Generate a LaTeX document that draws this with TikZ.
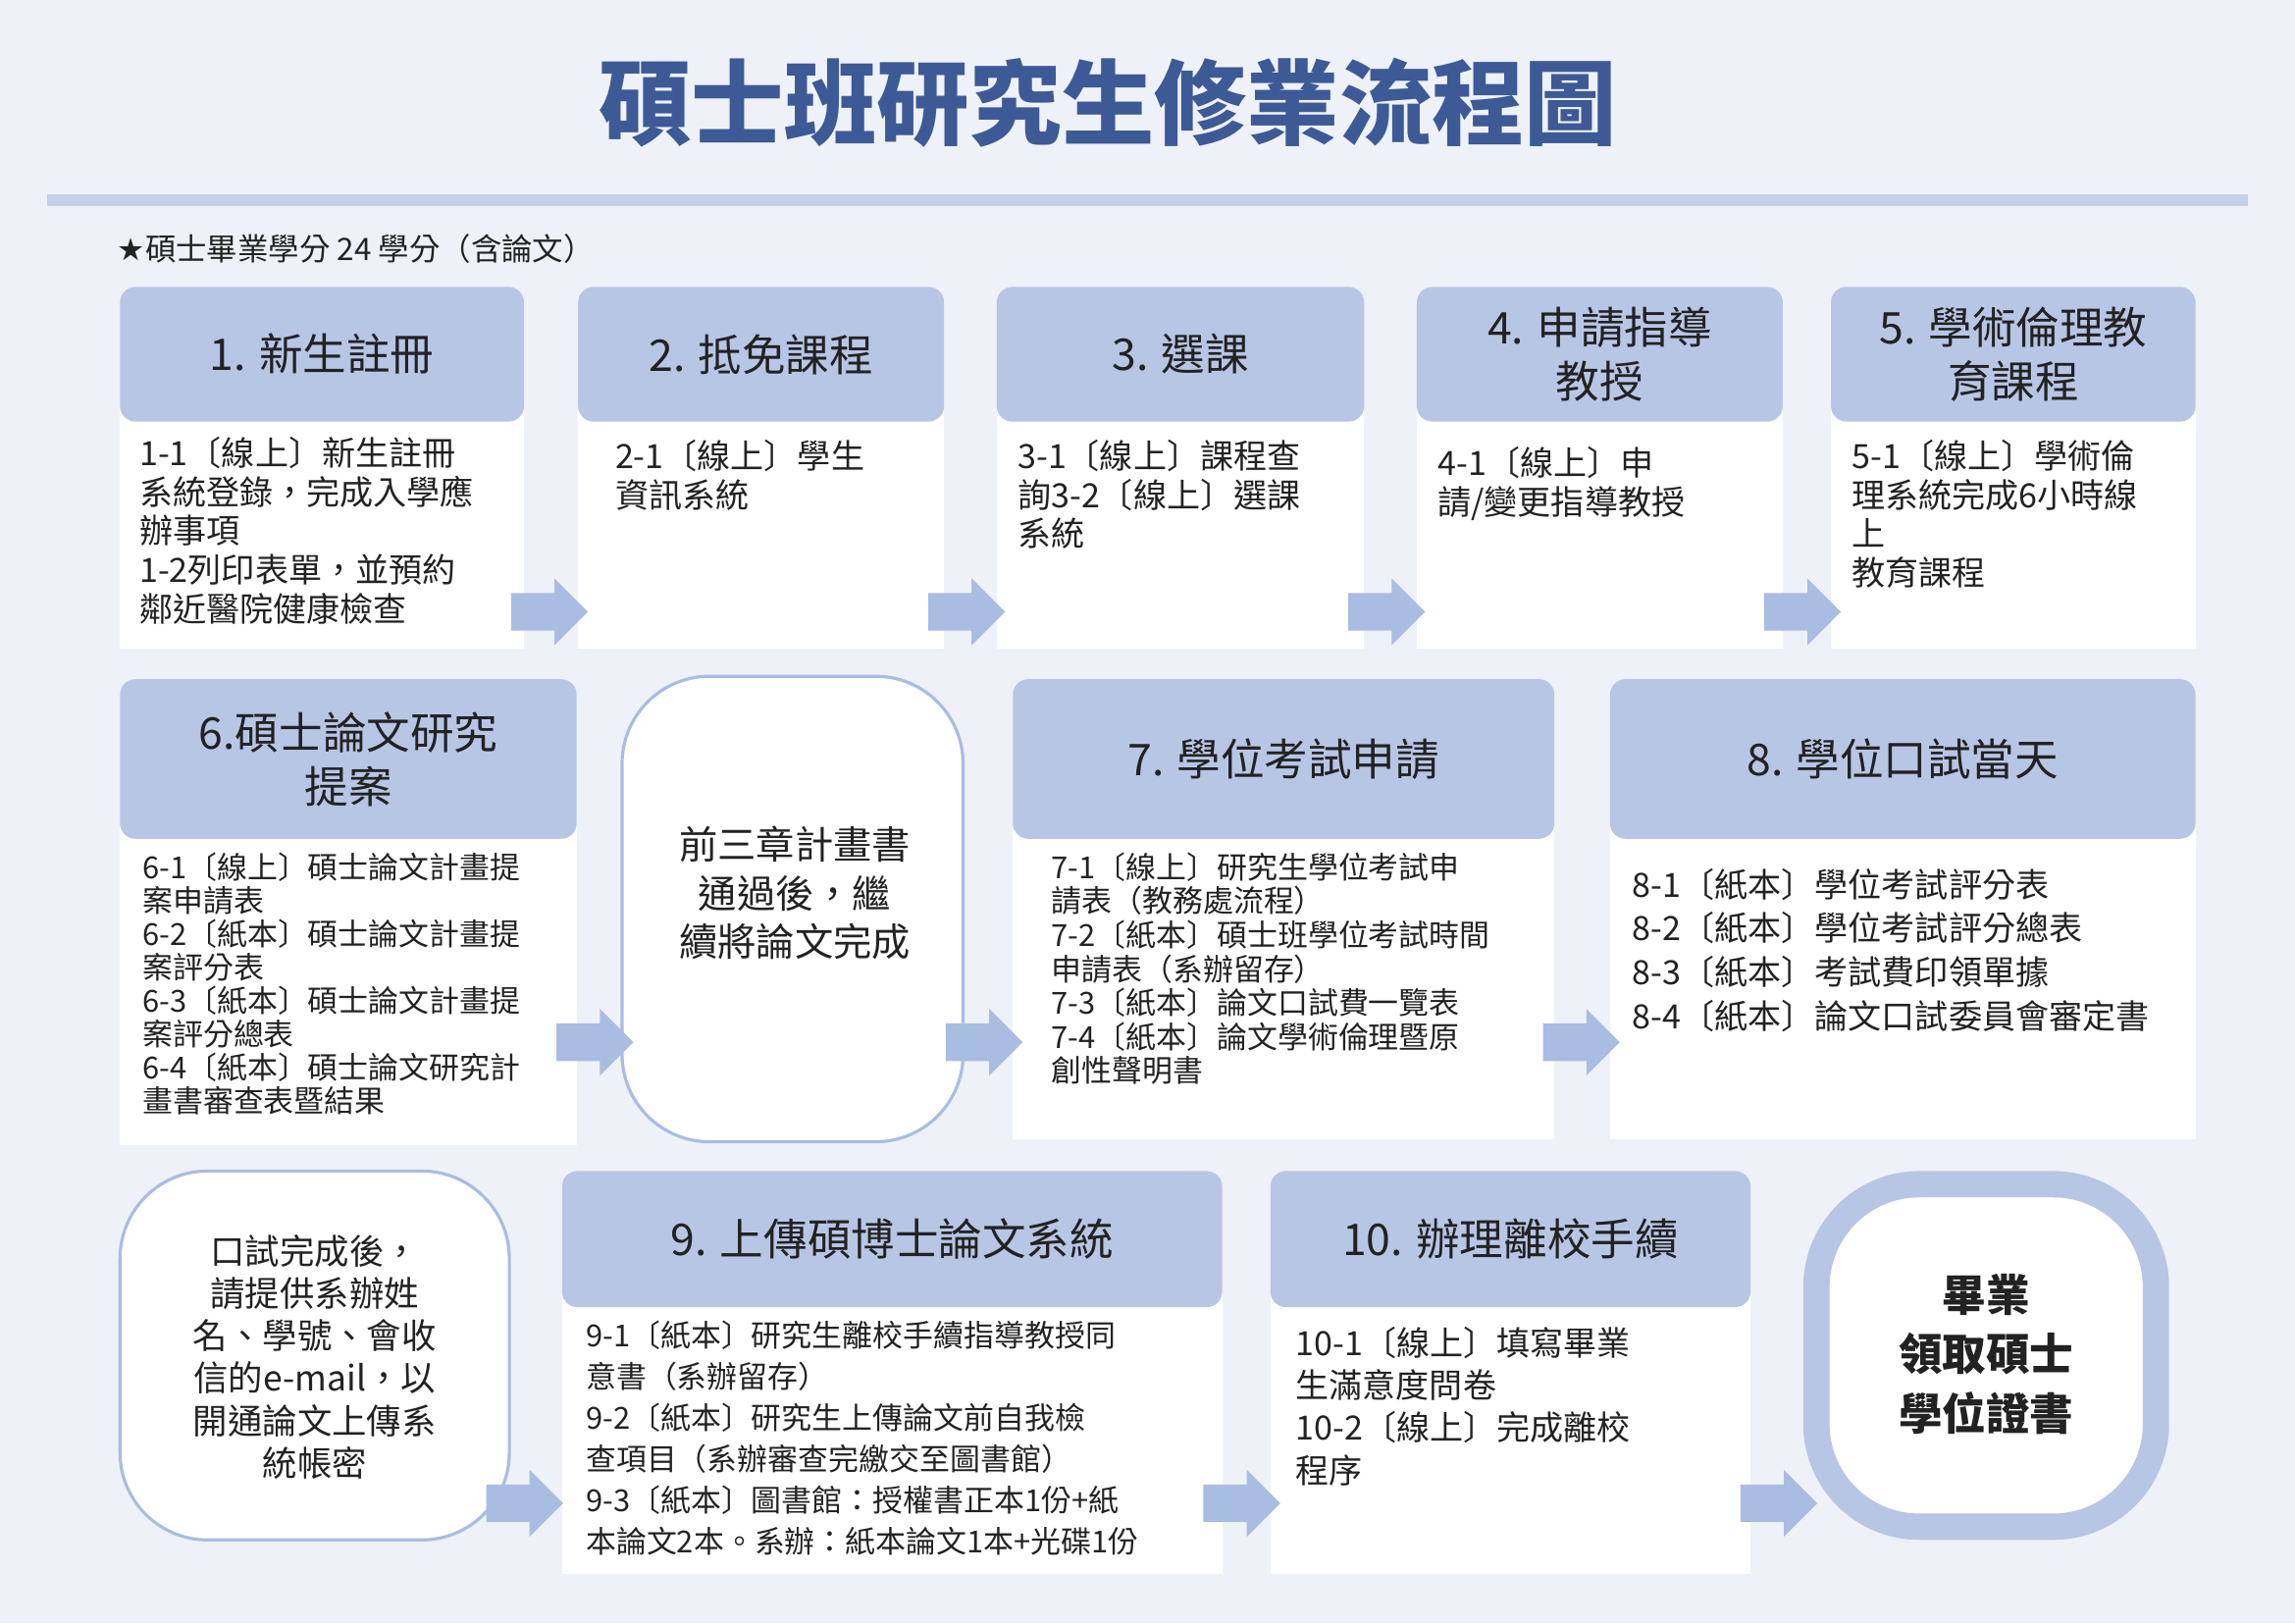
\documentclass[tikz,border=0pt]{standalone}
\usepackage{fontspec}
\setmainfont{Noto Sans CJK TC}
\usetikzlibrary{fit,shapes.arrows}
\definecolor{bg}{HTML}{EEF2F8}
\definecolor{hdr}{HTML}{B7C6E5}
\definecolor{arr}{HTML}{A9BCE2}
\definecolor{ttl}{HTML}{3D5A96}
\definecolor{txt}{HTML}{222222}
\tikzset{
 hdr/.style={fill=hdr,draw=none,inner sep=0pt,rounded corners=6pt},
 bod/.style={fill=white,draw=none,inner sep=0pt},
 htext/.style={font=\fontsize{17}{21}\selectfont,align=center,text=txt},
 btext/.style={font=\fontsize{13}{15.2}\selectfont,align=left,anchor=north west,inner sep=0pt,text=txt},
 stext/.style={font=\fontsize{11.8}{13}\selectfont,align=left,anchor=north west,inner sep=0pt,text=txt},
 rbox/.style={fill=white,draw=arr,line width=1.2pt,rounded corners=34pt,inner sep=0pt},
 barr/.style={single arrow,fill=arr,draw=none,minimum height=1.05cm,inner sep=0.25cm,single arrow head extend=0.2cm},
}
\begin{document}
\begin{tikzpicture}[x=0.02cm,y=-0.02cm]
\fill[bg] (0,0) rectangle (1568,1109);
\useasboundingbox (0,0) rectangle (1568,1109);
\node[font=\fontsize{36}{40}\selectfont\bfseries,text=ttl] (title) at (757,70) {碩士班研究生修業流程圖};
\draw[line width=0.16cm,color=hdr!80] (32,137) -- (1536,137);
\node[anchor=west,font=\fontsize{12}{14}\selectfont,text=txt,inner sep=0pt] (note) at (80,170) {{\fontspec{DejaVu Sans}★}碩士畢業學分 24 學分（含論文）};
% row 1
\node[bod,fit={(82,280)(358,443)}] (b1) {};
\node[hdr,fit={(82,196)(358,288)}] (h1) {};
\node[htext] (t1) at (h1.center) {1. 新生註冊};
\node[btext] (x1) at (95,298) {1-1〔線上〕新生註冊\\系統登錄，完成入學應\\辦事項\\1-2列印表單，並預約\\鄰近醫院健康檢查};
\node[bod,fit={(395,280)(645,443)}] (b2) {};
\node[hdr,fit={(395,196)(645,288)}] (h2) {};
\node[htext] (t2) at (h2.center) {2. 抵免課程};
\node[btext] (x2) at (420,300) {2-1〔線上〕學生\\資訊系統};
\node[bod,fit={(681,280)(932,443)}] (b3) {};
\node[hdr,fit={(681,196)(932,288)}] (h3) {};
\node[htext] (t3) at (h3.center) {3. 選課};
\node[btext] (x3) at (695,300) {3-1〔線上〕課程查\\詢3-2〔線上〕選課\\系統};
\node[bod,fit={(968,280)(1218,443)}] (b4) {};
\node[hdr,fit={(968,196)(1218,288)}] (h4) {};
\node[htext] (t4) at (h4.center) {4. 申請指導\\教授};
\node[btext] (x4) at (982,305) {4-1〔線上〕申\\請/變更指導教授};
\node[bod,fit={(1251,280)(1500,443)}] (b5) {};
\node[hdr,fit={(1251,196)(1500,288)}] (h5) {};
\node[htext] (t5) at (h5.center) {5. 學術倫理教\\育課程};
\node[btext] (x5) at (1265,300) {5-1〔線上〕學術倫\\理系統完成6小時線\\上\\教育課程};
\node[barr] (a1) at (369,418) {};
\node[barr] (a2) at (654,418) {};
\node[barr] (a3) at (941,418) {};
\node[barr] (a4) at (1225,418) {};
% row 2
\node[bod,fit={(82,565)(394,782)}] (b6) {};
\node[hdr,fit={(82,464)(394,573)}] (h6) {};
\node[htext] (t6) at (h6.center) {6.碩士論文研究\\提案};
\node[stext] (x6) at (97,582) {6-1〔線上〕碩士論文計畫提\\案申請表\\6-2〔紙本〕碩士論文計畫提\\案評分表\\6-3〔紙本〕碩士論文計畫提\\案評分總表\\6-4〔紙本〕碩士論文研究計\\畫書審查表暨結果};
\node[rbox,fit={(425,462)(658,780)}] (r1) {};
\node[htext,font=\fontsize{15}{19}\selectfont] (r1t) at (543,610) {前三章計畫書\\通過後，繼\\續將論文完成};
\node[bod,fit={(692,565)(1062,778)}] (b7) {};
\node[hdr,fit={(692,464)(1062,573)}] (h7) {};
\node[htext] (t7) at (h7.center) {7. 學位考試申請};
\node[stext,font=\fontsize{11.8}{13.2}\selectfont] (x7) at (718,582) {7-1〔線上〕研究生學位考試申\\請表（教務處流程）\\7-2〔紙本〕碩士班學位考試時間\\申請表（系辦留存）\\7-3〔紙本〕論文口試費一覽表\\7-4〔紙本〕論文學術倫理暨原\\創性聲明書};
\node[bod,fit={(1100,565)(1500,778)}] (b8) {};
\node[hdr,fit={(1100,464)(1500,573)}] (h8) {};
\node[htext] (t8) at (h8.center) {8. 學位口試當天};
\node[btext,font=\fontsize{13}{17}\selectfont] (x8) at (1115,593) {8-1〔紙本〕學位考試評分表\\8-2〔紙本〕學位考試評分總表\\8-3〔紙本〕考試費印領單據\\8-4〔紙本〕論文口試委員會審定書};
\node[barr] (a5) at (400,712) {};
\node[barr] (a6) at (666,712) {};
\node[barr] (a7) at (1074,712) {};
% row 3
\node[rbox,fit={(82,800)(348,1052)}] (r2) {};
\node[htext,font=\fontsize{13.5}{16.5}\selectfont] (r2t) at (215,927) {口試完成後，\\請提供系辦姓\\名、學號、會收\\信的e-mail，以\\開通論文上傳系\\統帳密};
\node[bod,fit={(384,885)(835,1075)}] (b9) {};
\node[hdr,fit={(384,800)(835,893)}] (h9) {};
\node[htext] (t9) at (h9.center) {9. 上傳碩博士論文系統};
\node[stext,font=\fontsize{11.8}{16}\selectfont] (x9) at (400,902) {9-1〔紙本〕研究生離校手續指導教授同\\意書（系辦留存）\\9-2〔紙本〕研究生上傳論文前自我檢\\查項目（系辦審查完繳交至圖書館）\\9-3〔紙本〕圖書館：授權書正本1份+紙\\本論文2本。系辦：紙本論文1本+光碟1份};
\node[bod,fit={(868,885)(1196,1075)}] (b10) {};
\node[hdr,fit={(868,800)(1196,893)}] (h10) {};
\node[htext] (t10) at (h10.center) {10. 辦理離校手續};
\node[btext,font=\fontsize{13}{16.5}\selectfont] (x10) at (885,906) {10-1〔線上〕填寫畢業\\生滿意度問卷\\10-2〔線上〕完成離校\\程序};
\node[fill=white,draw=hdr,line width=0.36cm,rounded corners=40pt,inner sep=0pt,fit={(1241,809)(1473,1043)}] (fin) {};
\node[htext,font=\fontsize{17}{23}\selectfont\bfseries] (fint) at (1357,925) {畢業\\領取碩士\\學位證書};
\node[barr] (a8) at (352,1027) {};
\node[barr] (a9) at (842,1027) {};
\node[barr] (a10) at (1209,1027) {};
\end{tikzpicture}
\end{document}
